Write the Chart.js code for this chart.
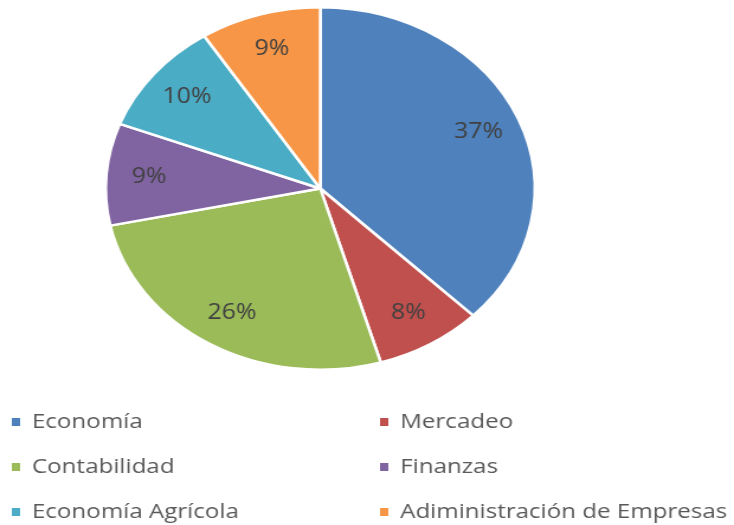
<!DOCTYPE html>
<html>
<head>
<meta charset="utf-8">
<script src="https://cdn.jsdelivr.net/npm/chart.js@4"></script>
<style>
  html, body { margin: 0; padding: 0; background: #fff; overflow: hidden; }
  #wrap { width: 620px; height: 525px; transform: scaleX(1.1839); transform-origin: 0 0; }
</style>
</head>
<body>
<div id="wrap"><canvas id="c" width="620" height="525"></canvas></div>
<script>
const categories = ["Economía", "Mercadeo", "Contabilidad", "Finanzas", "Economía Agrícola", "Adiministración de Empresas"];
const values = [37, 8, 26, 9, 10, 9];
const valueLabels = ["37%", "8%", "26%", "9%", "10%", "9%"];
const colors = ["#4F81BD", "#C0504D", "#9BBB59", "#8064A2", "#4BACC6", "#F79646"];

const FONT = '"Open Sans", sans-serif';

const labelPlugin = {
  id: 'sliceLabels',
  afterDatasetsDraw(chart) {
    const ctx = chart.ctx;
    const meta = chart.getDatasetMeta(0);
    ctx.save();
    ctx.font = '21px ' + FONT;
    ctx.fillStyle = '#404040';
    ctx.textAlign = 'center';
    ctx.textBaseline = 'middle';
    meta.data.forEach((arc, i) => {
      const p = arc.getProps(['x', 'y', 'startAngle', 'endAngle', 'outerRadius'], true);
      const mid = (p.startAngle + p.endAngle) / 2;
      const r = p.outerRadius * 0.8;
      ctx.fillText(valueLabels[i], p.x + Math.cos(mid) * r, p.y + Math.sin(mid) * r);
    });
    ctx.restore();
  }
};

const legendPlugin = {
  id: 'gridLegend',
  afterDraw(chart) {
    const ctx = chart.ctx;
    ctx.save();
    ctx.font = '20.4px ' + FONT;
    ctx.textBaseline = 'middle';
    ctx.textAlign = 'left';
    const colX = [10, 321];
    const rowY = [422, 467, 512];
    categories.forEach((name, i) => {
      const col = i % 2, row = Math.floor(i / 2);
      const x = colX[col], y = rowY[row];
      ctx.fillStyle = colors[i];
      ctx.fillRect(x, y - 4, 7, 8);
      ctx.fillStyle = '#595959';
      ctx.fillText(name, x + 17, y);
    });
    ctx.restore();
  }
};

new Chart(document.getElementById('c'), {
  type: 'pie',
  data: {
    labels: categories,
    datasets: [{
      data: values,
      backgroundColor: colors,
      borderColor: '#ffffff',
      borderWidth: 2.5,
      hoverOffset: 0
    }]
  },
  options: {
    responsive: false,
    animation: false,
    layout: { padding: { left: 88, right: 167, top: 6, bottom: 154 } },
    plugins: {
      legend: { display: false },
      tooltip: { enabled: false }
    }
  },
  plugins: [labelPlugin, legendPlugin]
});
</script>
</body>
</html>
